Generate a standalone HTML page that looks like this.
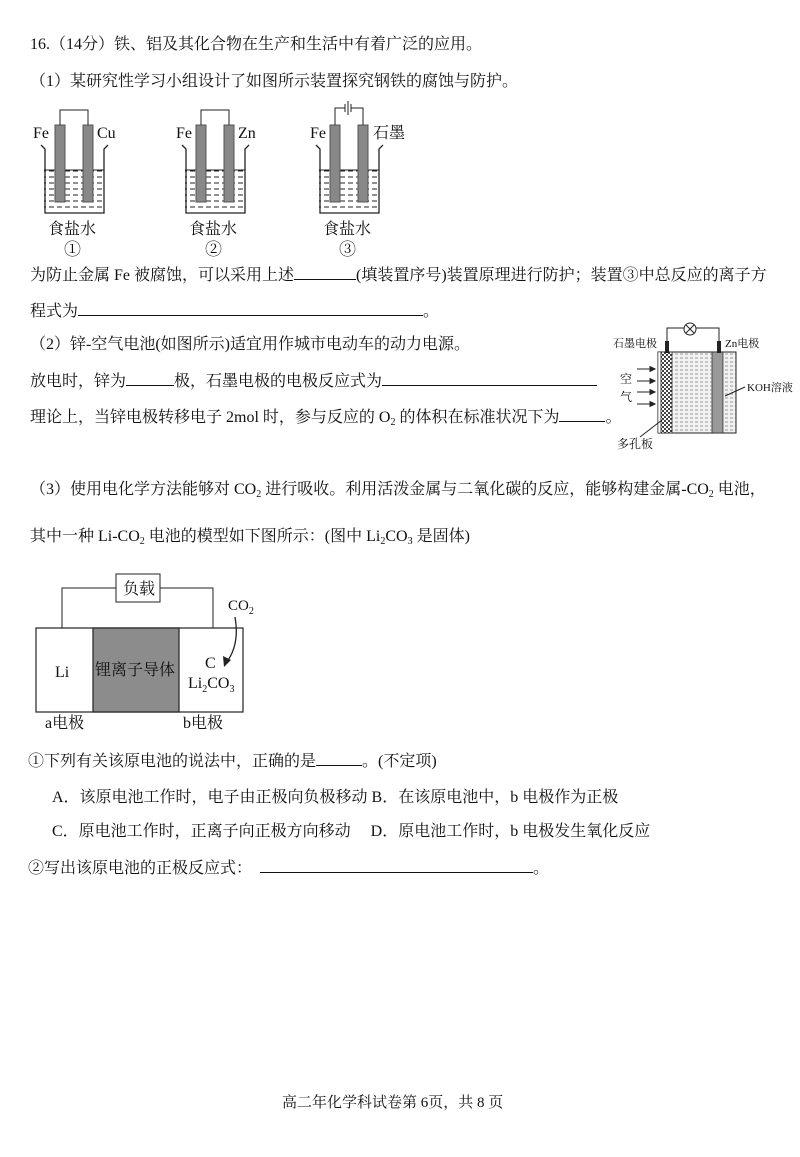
<!DOCTYPE html>
<html><head><meta charset="utf-8">
<style>
body{margin:0;background:#fff;}
#p{position:relative;width:800px;height:1157px;overflow:hidden;font-family:"Liberation Serif","Noto Serif CJK SC","Noto Sans CJK SC",serif;font-size:16px;color:#111;}
.l{position:absolute;white-space:nowrap;line-height:20px;}
.b{display:inline-block;border-bottom:1px solid #111;height:14px;vertical-align:baseline;}
sub{font-size:10px;vertical-align:-3px;line-height:0;}
svg{position:absolute;left:0;top:0;}
svg text{font-family:"Liberation Serif","Noto Serif CJK SC","Noto Sans CJK SC",serif;fill:#111;}
</style></head><body><div id="p">
<div class="l" style="left:30px;top:35px">16.（14分）铁、铝及其化合物在生产和生活中有着广泛的应用。</div>
<div class="l" style="left:30px;top:72px">（1）某研究性学习小组设计了如图所示装置探究钢铁的腐蚀与防护。</div>
<div class="l" style="left:30px;top:265px">为防止金属 Fe 被腐蚀，可以采用上述<span class="b" style="width:62px"></span>(填装置序号)装置原理进行防护；装置③中总反应的离子方</div>
<div class="l" style="left:30px;top:301px">程式为<span class="b" style="width:345px"></span>。</div>
<div class="l" style="left:30px;top:335px">（2）锌-空气电池(如图所示)适宜用作城市电动车的动力电源。</div>
<div class="l" style="left:30px;top:371px">放电时，锌为<span class="b" style="width:48px"></span>极，石墨电极的电极反应式为<span class="b" style="width:215px"></span></div>
<div class="l" style="left:30px;top:407px">理论上，当锌电极转移电子 2mol 时，参与反应的 O<sub>2</sub> 的体积在标准状况下为<span class="b" style="width:46px"></span>。</div>
<div class="l" style="left:30px;top:480px">（3）使用电化学方法能够对 CO<sub>2</sub> 进行吸收。利用活泼金属与二氧化碳的反应，能够构建金属-CO<sub>2</sub> 电池，</div>
<div class="l" style="left:30px;top:527px">其中一种 Li-CO<sub>2</sub> 电池的模型如下图所示：(图中 Li<sub>2</sub>CO<sub>3</sub> 是固体)</div>
<div class="l" style="left:28px;top:751px">①下列有关该原电池的说法中，正确的是<span class="b" style="width:46px"></span>。(不定项)</div>
<div class="l" style="left:52px;top:788px">A．该原电池工作时，电子由正极向负极移动 B．在该原电池中，b 电极作为正极</div>
<div class="l" style="left:52px;top:822px">C．原电池工作时，正离子向正极方向移动　 D．原电池工作时，b 电极发生氧化反应</div>
<div class="l" style="left:28px;top:858px">②写出该原电池的正极反应式：　<span class="b" style="width:273px"></span>。</div>
<div class="l" style="left:282px;top:1093px;font-size:15px">高二年化学科试卷第 6页，共 8 页</div>

<svg width="800" height="1157">
<defs>
<pattern id="dash" width="8" height="6" patternUnits="userSpaceOnUse"><line x1="1" y1="3" x2="6" y2="3" stroke="#222" stroke-width="1"/></pattern>
<pattern id="dot" width="4" height="4" patternUnits="userSpaceOnUse"><rect width="4" height="4" fill="#fff"/><rect width="2" height="2" fill="#444"/><rect x="2" y="2" width="2" height="2" fill="#444"/></pattern>
<pattern id="lt" width="5" height="4" patternUnits="userSpaceOnUse"><rect width="5" height="4" fill="#f2f2f2"/><line x1="0" y1="2" x2="3" y2="2" stroke="#999"/></pattern>
</defs>
<g id="bk" stroke="#222" fill="none">
<rect x="44" y="170" width="60" height="42" fill="url(#dash)" stroke="none"/>
<path d="M41 145 L45 149 L45 213 L104 213 L104 149 L108 145" stroke-width="1.3"/>
<line x1="44" y1="170" x2="104" y2="170"/>
<rect x="55" y="125" width="10" height="77" fill="#888" stroke="#555"/>
<rect x="83" y="125" width="10" height="77" fill="#888" stroke="#555"/>
</g>
<path d="M60 125 V110 H88 V125" stroke="#222" fill="none"/>
<text x="33" y="138" font-size="16">Fe</text><text x="97" y="138" font-size="16">Cu</text>
<text x="48" y="234" font-size="16">食盐水</text><text x="64" y="255" font-size="17">①</text>
<use href="#bk" x="141"/>
<path d="M201 125 V110 H229 V125" stroke="#222" fill="none"/>
<text x="176" y="138" font-size="16">Fe</text><text x="238" y="138" font-size="16">Zn</text>
<text x="189" y="234" font-size="16">食盐水</text><text x="205" y="255" font-size="17">②</text>
<use href="#bk" x="275"/>
<path d="M335 125 V108 H345 M351 108 H363 V125 M345 104 V112 M348 101 V115 M351 104 V112" stroke="#222" fill="none"/>
<text x="310" y="138" font-size="16">Fe</text><text x="373" y="138" font-size="16">石墨</text>
<text x="323" y="234" font-size="16">食盐水</text><text x="339" y="255" font-size="17">③</text>

<rect x="658" y="352" width="78" height="81" fill="url(#lt)" stroke="#222"/>
<rect x="658" y="352" width="3" height="81" fill="#fff" stroke="#222" stroke-width="0.5"/>
<rect x="661" y="352" width="11" height="81" fill="url(#dot)" stroke="#222" stroke-width="0.7"/>
<rect x="712" y="352" width="11" height="81" fill="#999" stroke="#222" stroke-width="0.7"/>
<rect x="665" y="341" width="4" height="12" fill="#222"/><rect x="717" y="341" width="4" height="12" fill="#222"/>
<path d="M667 341 V328 H684 M696 328 H719 V341" stroke="#222" fill="none"/>
<circle cx="690" cy="329" r="6" fill="#fff" stroke="#222"/>
<path d="M686 325 L694 333 M694 325 L686 333" stroke="#222"/>
<text x="613" y="347" font-size="11">石墨电极</text><text x="725" y="347" font-size="11">Zn电极</text>
<text x="747" y="391" font-size="11">KOH溶液</text>
<line x1="745" y1="387" x2="725" y2="396" stroke="#222"/>
<text x="620" y="383" font-size="12">空</text><text x="620" y="401" font-size="12">气</text>
<g stroke="#222" fill="#222">
<line x1="637" y1="369" x2="652" y2="369"/><path d="M655 369 l-5 -2.5 v5z"/>
<line x1="637" y1="381" x2="652" y2="381"/><path d="M655 381 l-5 -2.5 v5z"/>
<line x1="637" y1="392" x2="652" y2="392"/><path d="M655 392 l-5 -2.5 v5z"/>
<line x1="637" y1="404" x2="652" y2="404"/><path d="M655 404 l-5 -2.5 v5z"/>
</g>
<line x1="640" y1="437" x2="662" y2="420" stroke="#222"/>
<text x="617" y="448" font-size="12">多孔板</text>

<rect x="36" y="628" width="207" height="84" fill="#fff" stroke="#222" stroke-width="1.2"/>
<rect x="93" y="628" width="86" height="84" fill="#8c8c8c" stroke="#222" stroke-width="1.2"/>
<rect x="116" y="574" width="44" height="28" fill="#fff" stroke="#222"/>
<path d="M62 628 V588 H116 M160 588 H213 V628" stroke="#222" fill="none"/>
<text x="123" y="594" font-size="16">负载</text>
<text x="55" y="677" font-size="16">Li</text>
<text x="95" y="675" font-size="16" fill="#111">锂离子导体</text>
<text x="205" y="668" font-size="16">C</text>
<text x="188" y="688" font-size="16">Li<tspan font-size="10" dy="4">2</tspan><tspan dy="-4">CO</tspan><tspan font-size="10" dy="4">3</tspan></text>
<text x="228" y="610" font-size="15">CO<tspan font-size="10" dy="4">2</tspan></text>
<path d="M235 617 Q240 645 226 663" stroke="#222" fill="none" stroke-width="1.3"/>
<path d="M224 667 L223 656 L231 660 Z" fill="#222"/>
<text x="45" y="728" font-size="16">a电极</text>
<text x="183" y="728" font-size="16">b电极</text>
</svg>
</div></body></html>
